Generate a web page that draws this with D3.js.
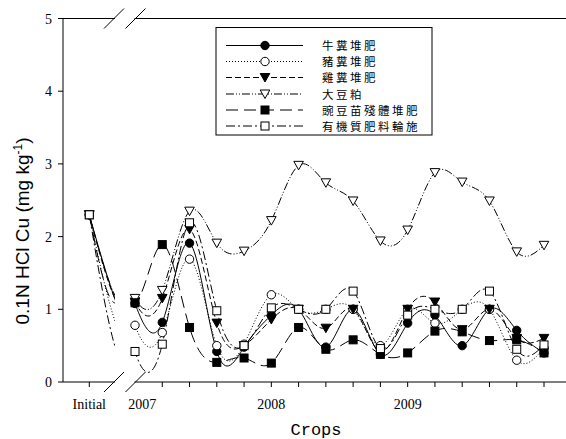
<!DOCTYPE html>
<html><head><meta charset="utf-8">
<script src="https://cdn.jsdelivr.net/npm/d3@7"></script>
<style>body{margin:0;background:#fff}svg{display:block}</style>
</head><body>
<svg id="c" width="566" height="439"></svg>
<script>
// ---- data ----
const seriesNames = ["牛糞堆肥","豬糞堆肥","雞糞堆肥","大豆粕","豌豆苗殘體堆肥","有機質肥料輪施"];
// index 0 = Initial, 1..16 = crops 2007-2009
const cattle  = [2.3,1.08,0.82,1.91,0.42,0.48,0.92,1.00,0.48,1.00,0.38,0.81,0.92,0.50,1.00,0.71,0.40];
const swine   = [2.3,0.78,0.68,1.69,0.50,0.52,1.20,1.00,1.00,1.00,0.50,1.00,0.81,1.00,1.00,0.30,0.47];
const chicken = [2.3,1.10,1.15,2.10,0.81,0.50,0.86,1.00,0.74,1.00,0.42,1.00,1.10,0.72,1.00,0.60,0.60];
const soybean = [2.3,1.15,1.26,2.35,1.91,1.80,2.22,2.98,2.74,2.49,1.94,2.09,2.88,2.75,2.49,1.79,1.88];
const peaRes  = [2.3,1.09,1.89,0.75,0.27,0.33,0.26,0.75,0.45,0.58,0.38,0.40,0.70,0.69,0.57,0.58,0.40];
const rotation= [2.3,0.42,0.52,2.19,0.98,0.50,1.02,1.00,1.00,1.25,0.46,0.92,1.00,1.00,1.25,0.45,0.51];
const yTicks = [0,1,2,3,4,5];
const xTickIdx = [2,3,4,5,6,7,8,9,10,11,12,13,14,15,16];
const yearLabels = ["2007","2008","2009"];
const yearPos = [1.27,6,11];
const initialLabel = "Initial";

// ---- layout ----
const svg = d3.select("#c");
const L = 63, R = 566, T = 18.5, B = 382;
const y = d3.scaleLinear().domain([0,5]).range([B,T]);
const xPre = d3.scaleLinear().domain([0,1]).range([89.3,116.5]);
const xPost = d3.scaleLinear().domain([1,16]).range([135,544]);
const breakA = 114, breakB = 135.5;

const defs = svg.append("defs");
defs.append("clipPath").attr("id","pre").append("rect").attr("x",L).attr("y",0).attr("width",breakA-L+1).attr("height",439);
defs.append("clipPath").attr("id","post").append("rect").attr("x",xPost(1)).attr("y",0).attr("width",R-xPost(1)).attr("height",439);

const styles = [
  {data:cattle,  dash:null,            marker:"circle",  fill:"#000"},
  {data:swine,   dash:"1,2",           marker:"circle",  fill:"#fff"},
  {data:chicken, dash:"6,3",           marker:"tri",     fill:"#000"},
  {data:soybean, dash:"8,2,1,2,1,2",   marker:"tri",     fill:"#fff"},
  {data:peaRes,  dash:"12,6",          marker:"square",  fill:"#000"},
  {data:rotation,dash:"9,3,2,3",       marker:"square",  fill:"#fff"}
];

function drawMarker(g, type, fill, cx, cy){
  if(type==="circle"){
    g.append("circle").attr("cx",cx).attr("cy",cy).attr("r",4.2).attr("fill",fill).attr("stroke","#000").attr("stroke-width",1);
  } else if(type==="square"){
    g.append("rect").attr("x",cx-4).attr("y",cy-4).attr("width",8).attr("height",8).attr("fill",fill).attr("stroke","#000").attr("stroke-width",1);
  } else {
    g.append("path").attr("d",`M${cx-4.8},${cy-4} L${cx+4.8},${cy-4} L${cx},${cy+4.5} Z`).attr("fill",fill).attr("stroke","#000").attr("stroke-width",1);
  }
}

// ---- lines ----
const linesG = svg.append("g");
styles.forEach(s=>{
  const linePre = d3.line().x((d,i)=>xPre(i)).y(d=>y(d)).curve(d3.curveNatural);
  const linePost = d3.line().x((d,i)=>xPost(i)).y(d=>y(d)).curve(d3.curveNatural);
  linesG.append("path").attr("d",linePre(s.data)).attr("clip-path","url(#pre)")
    .attr("fill","none").attr("stroke","#000").attr("stroke-width",1).attr("stroke-dasharray",s.dash);
  linesG.append("path").attr("d",linePost(s.data)).attr("clip-path","url(#post)")
    .attr("fill","none").attr("stroke","#000").attr("stroke-width",1).attr("stroke-dasharray",s.dash);
});
// ---- markers ----
const mG = svg.append("g");
styles.forEach(s=>{
  s.data.forEach((v,i)=>{
    const cx = i===0 ? xPre(0) : xPost(i);
    drawMarker(mG, s.marker, s.fill, cx, y(v));
  });
});

// ---- axes ----
const ax = svg.append("g").attr("stroke","#000").attr("stroke-width",1).attr("fill","none");
ax.append("line").attr("x1",L).attr("x2",L).attr("y1",T).attr("y2",B);
[T,B].forEach(yy=>{
  ax.append("line").attr("x1",L).attr("x2",breakA+1).attr("y1",yy).attr("y2",yy);
  ax.append("line").attr("x1",breakB-1).attr("x2",R).attr("y1",yy).attr("y2",yy);
  [breakA,breakB].forEach(bx=>{
    ax.append("line").attr("x1",bx-10).attr("y1",yy+10).attr("x2",bx+10).attr("y2",yy-10);
  });
});
yTicks.forEach(t=>{
  ax.append("line").attr("x1",L-5).attr("x2",L).attr("y1",y(t)).attr("y2",y(t));
});
ax.append("line").attr("x1",xPre(0)).attr("x2",xPre(0)).attr("y1",B).attr("y2",B+5);
xTickIdx.forEach(t=>{
  ax.append("line").attr("x1",xPost(t)).attr("x2",xPost(t)).attr("y1",B).attr("y2",B+5);
});

const txt = svg.append("g").attr("fill","#000");
yTicks.forEach(t=>{
  txt.append("text").attr("x",52).attr("y",y(t)+5).attr("text-anchor","end")
    .attr("font-family","Liberation Serif").attr("font-size",14).text(t);
});
txt.append("text").attr("x",xPre(0)).attr("y",409).attr("text-anchor","middle")
  .attr("font-family","Liberation Serif").attr("font-size",14).text(initialLabel);
yearLabels.forEach((l,i)=>{
  txt.append("text").attr("x",xPost(yearPos[i])).attr("y",409).attr("text-anchor","middle")
    .attr("font-family","Liberation Serif").attr("font-size",14).text(l);
});
txt.append("text").attr("x",316).attr("y",435).attr("text-anchor","middle")
  .attr("font-family","Liberation Mono").attr("font-size",17).text("Crops");
const yl = txt.append("text").attr("transform","translate(29,231) rotate(-90)").attr("text-anchor","middle")
  .attr("font-family","Liberation Sans").attr("font-size",19);
yl.append("tspan").text("0.1N HCl Cu (mg kg");
yl.append("tspan").attr("font-size",12).attr("dy",-7).text("-1");
yl.append("tspan").attr("dy",7).text(")");

// ---- legend ----
const lg = svg.append("g");
lg.append("rect").attr("x",216).attr("y",27.5).attr("width",216).attr("height",107.5)
  .attr("fill","#fff").attr("stroke","#000").attr("stroke-width",1);
const rowY = [45.5,61.5,77.5,94,110,126];
styles.forEach((s,i)=>{
  lg.append("line").attr("x1",226).attr("x2",303).attr("y1",rowY[i]).attr("y2",rowY[i])
    .attr("stroke","#000").attr("stroke-width",1).attr("stroke-dasharray",s.dash);
  drawMarker(lg, s.marker, s.fill, 265, rowY[i]);
  lg.append("text").attr("x",322).attr("y",rowY[i]+4.5).attr("font-family","Noto Sans CJK TC")
    .attr("font-size",11.5).attr("letter-spacing",2.5).text(seriesNames[i]);
});
</script>
</body></html>
